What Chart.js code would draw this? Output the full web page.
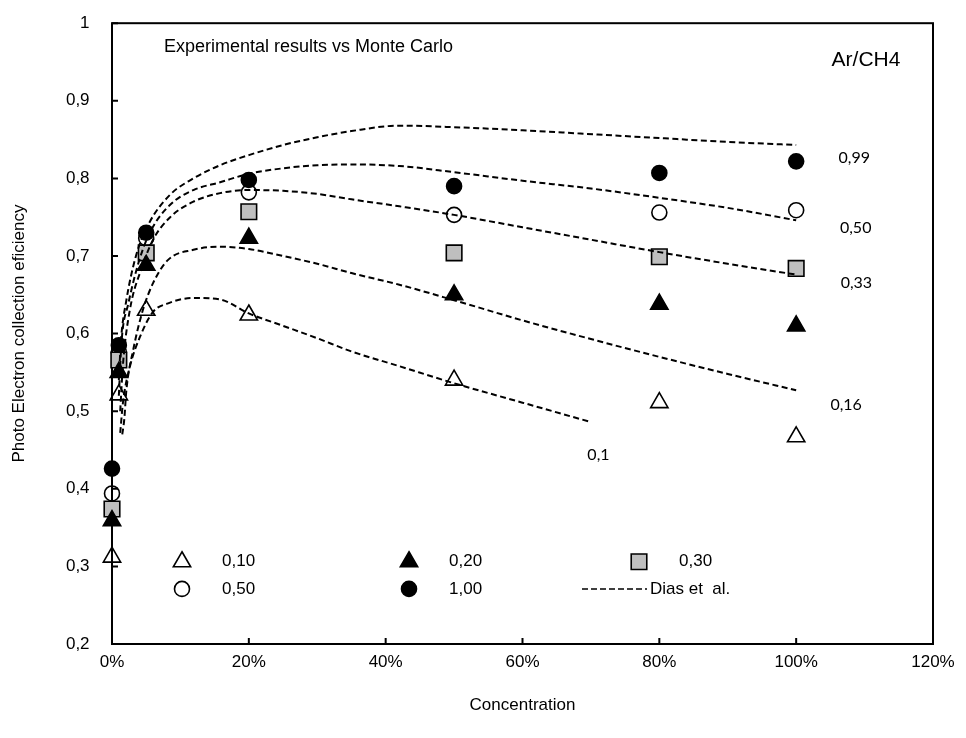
<!DOCTYPE html>
<html><head><meta charset="utf-8">
<script src="https://cdn.jsdelivr.net/npm/chart.js@4.4.1/dist/chart.umd.min.js"></script>
<style>html,body{margin:0;padding:0;background:#fff}#wrap{width:966px;height:738px}</style>
</head><body><div id="wrap"><canvas id="c" width="966" height="738"></canvas></div>
<script>
// Experimental data (x = CH4 concentration, y = photoelectron collection efficiency)
const concentrations = [0, 0.01, 0.05, 0.2, 0.5, 0.8, 1.0];
const eff010 = [0.312, 0.521, 0.630, 0.624, 0.540, 0.511, 0.467];
const eff020 = [0.359, 0.550, 0.688, 0.723, 0.650, 0.638, 0.610];
const eff030 = [0.374, 0.566, 0.704, 0.757, 0.704, 0.699, 0.684];
const eff050 = [0.394, 0.576, 0.723, 0.782, 0.753, 0.756, 0.759];
const eff100 = [0.426, 0.585, 0.730, 0.798, 0.790, 0.807, 0.822];

// Monte Carlo (Dias et al.) curves
const dias099X = [0.010, 0.013, 0.021, 0.035, 0.054, 0.085, 0.119, 0.158, 0.20, 0.25, 0.30, 0.35, 0.42, 0.50, 0.60, 0.72, 0.80, 0.90, 1.00];
const dias099Y = [0.540, 0.590, 0.643, 0.700, 0.742, 0.779, 0.800, 0.817, 0.830, 0.843, 0.853, 0.861, 0.868, 0.866, 0.862, 0.856, 0.852, 0.847, 0.843];
const dias050X = [0.010, 0.014, 0.024, 0.040, 0.057, 0.085, 0.119, 0.158, 0.20, 0.25, 0.30, 0.35, 0.42, 0.50, 0.60, 0.70, 0.80, 0.90, 1.00];
const dias050Y = [0.520, 0.590, 0.639, 0.695, 0.733, 0.766, 0.785, 0.795, 0.806, 0.813, 0.817, 0.818, 0.816, 0.808, 0.797, 0.787, 0.775, 0.762, 0.746];
const dias033X = [0.012, 0.016, 0.026, 0.044, 0.060, 0.085, 0.119, 0.158, 0.20, 0.25, 0.30, 0.35, 0.42, 0.50, 0.60, 0.70, 0.80, 0.90, 1.00];
const dias033Y = [0.500, 0.560, 0.630, 0.686, 0.721, 0.750, 0.770, 0.781, 0.785, 0.784, 0.780, 0.773, 0.764, 0.753, 0.737, 0.721, 0.705, 0.690, 0.676];
const dias016X = [0.015, 0.018, 0.021, 0.031, 0.045, 0.060, 0.082, 0.119, 0.158, 0.20, 0.25, 0.30, 0.35, 0.42, 0.50, 0.60, 0.70, 0.80, 0.90, 1.00];
const dias016Y = [0.470, 0.490, 0.527, 0.579, 0.630, 0.665, 0.695, 0.708, 0.712, 0.709, 0.700, 0.690, 0.678, 0.663, 0.643, 0.617, 0.593, 0.570, 0.548, 0.527];
const dias010X = [0.012, 0.016, 0.026, 0.041, 0.060, 0.082, 0.119, 0.158, 0.20, 0.25, 0.30, 0.35, 0.42, 0.50, 0.60, 0.70];
const dias010Y = [0.472, 0.511, 0.557, 0.596, 0.628, 0.639, 0.646, 0.644, 0.626, 0.610, 0.594, 0.577, 0.558, 0.536, 0.511, 0.486];

const xTicks = [0, 0.2, 0.4, 0.6, 0.8, 1.0, 1.2];
const yTicks = [0.2, 0.3, 0.4, 0.5, 0.6, 0.7, 0.8, 0.9, 1.0];
const legendLabels = ['0,10', '0,20', '0,30', '0,50', '1,00', 'Dias et  al.'];
const curveLabels = ['0,99', '0,50', '0,33', '0,16', '0,1'];
const titleText = 'Experimental results vs Monte Carlo';
const gasText = 'Ar/CH4';
const xTitle = 'Concentration';
const yTitle = 'Photo Electron collection eficiency';

const FONT = '"Liberation Sans", Arial, sans-serif';
const OPEN = 'rgba(255,255,255,0)';
const zip = (xs, ys) => xs.map((x, i) => ({x, y: ys[i]}));
const fmtNum = v => String(Math.round(v * 10) / 10).replace('.', ',') + '  ';

function markerDS(label, ys, style, fill, r) {
  return {label, data: zip(concentrations, ys), showLine: false, pointStyle: style,
    pointRadius: r, pointHoverRadius: r, backgroundColor: fill, borderColor: '#000',
    pointBorderWidth: 1.6, borderWidth: 1.6, order: 2, clip: false};
}
function curveDS(label, xs, ys) {
  return {label, data: zip(xs, ys), showLine: true, pointRadius: 0, borderColor: '#000',
    borderWidth: 2, borderDash: [6, 3.5], cubicInterpolationMode: 'monotone', fill: false, order: 1};
}

const datasets = [
  markerDS('0,10', eff010, 'triangle', OPEN, 10),
  markerDS('0,20', eff020, 'triangle', '#000', 10),
  markerDS('0,30', eff030, 'rect', '#bfbfbf', 11),
  markerDS('0,50', eff050, 'circle', OPEN, 7.5),
  markerDS('1,00', eff100, 'circle', '#000', 7.5),
  curveDS('0,99', dias099X, dias099Y),
  curveDS('0,50 MC', dias050X, dias050Y),
  curveDS('0,33', dias033X, dias033Y),
  curveDS('0,16', dias016X, dias016Y),
  curveDS('0,1', dias010X, dias010Y)
];

function drawMarker(ctx, style, x, y, r, fill) {
  ctx.save();
  ctx.fillStyle = fill; ctx.strokeStyle = '#000'; ctx.lineWidth = 1.6; ctx.setLineDash([]);
  ctx.beginPath();
  if (style === 'circle') ctx.arc(x, y, r, 0, Math.PI * 2);
  else if (style === 'rect') { const s = r * Math.SQRT1_2; ctx.rect(x - s, y - s, 2 * s, 2 * s); }
  else { ctx.moveTo(x, y - r); ctx.lineTo(x + r * 0.866, y + r / 2); ctx.lineTo(x - r * 0.866, y + r / 2); ctx.closePath(); }
  ctx.fill(); ctx.stroke();
  ctx.restore();
}

const decor = {
  id: 'decor',
  beforeDatasetsDraw(chart) {
    const {ctx, chartArea: a, scales: {x, y}} = chart;
    ctx.save();
    ctx.strokeStyle = '#000'; ctx.lineWidth = 2; ctx.setLineDash([]);
    ctx.strokeRect(a.left, a.top, a.right - a.left, a.bottom - a.top);
    ctx.beginPath();
    yTicks.forEach(v => { const py = y.getPixelForValue(v); ctx.moveTo(a.left, py); ctx.lineTo(a.left + 6, py); });
    xTicks.forEach(v => { const px = x.getPixelForValue(v); ctx.moveTo(px, a.bottom); ctx.lineTo(px, a.bottom - 6); });
    ctx.stroke();
    ctx.restore();
  },
  afterDraw(chart) {
    const {ctx, chartArea: a, scales: {x, y}} = chart;
    ctx.save();
    ctx.fillStyle = '#000'; ctx.textBaseline = 'middle';
    ctx.font = '18px ' + FONT; ctx.textAlign = 'left';
    ctx.fillText(titleText, a.left + 52, a.top + 24);
    ctx.font = '21px ' + FONT; ctx.textAlign = 'center';
    ctx.fillText(gasText, a.left + 754, a.top + 37);

    ctx.font = '16px Lato, "Open Sans", sans-serif'; ctx.textAlign = 'center';
    const cl = [[1.085, 0.826], [1.087, 0.736], [1.088, 0.665], [1.073, 0.508], [0.711, 0.444]];
    curveLabels.forEach((t, i) => ctx.fillText(t, x.getPixelForValue(cl[i][0]), y.getPixelForValue(cl[i][1])));

    const r1 = y.getPixelForValue(0.306), r2 = y.getPixelForValue(0.271);
    const mx = [a.left + 70, a.left + 297, a.left + 527];
    const styles = [['triangle', OPEN, 10, mx[0], r1], ['triangle', '#000', 10, mx[1], r1], ['rect', '#bfbfbf', 11, mx[2], r1],
                    ['circle', OPEN, 7.5, mx[0], r2], ['circle', '#000', 7.5, mx[1], r2]];
    ctx.font = '17px ' + FONT; ctx.textAlign = 'left';
    styles.forEach((s, i) => {
      drawMarker(ctx, s[0], s[3], s[4], s[2], s[1]);
      ctx.fillStyle = '#000';
      ctx.fillText(legendLabels[i], s[3] + 40, s[4]);
    });
    ctx.beginPath(); ctx.setLineDash([6, 3]); ctx.lineWidth = 1.5;
    ctx.moveTo(a.left + 470, r2); ctx.lineTo(a.left + 535, r2); ctx.stroke();
    ctx.setLineDash([]);
    ctx.fillText(legendLabels[5], a.left + 538, r2);
    ctx.restore();
  }
};

new Chart(document.getElementById('c'), {
  type: 'scatter',
  data: {datasets},
  options: {
    responsive: false, animation: false, devicePixelRatio: 1,
    layout: {padding: {top: 23, right: 33, left: 0, bottom: 0}},
    plugins: {legend: {display: false}, tooltip: {enabled: false}},
    scales: {
      x: {type: 'linear', min: 0, max: 1.2,
        afterBuildTicks: s => { s.ticks = xTicks.map(v => ({value: v})); },
        afterFit: s => { s.height = 94; },
        ticks: {callback: v => Math.round(v * 100) + '%', color: '#000', font: {family: FONT, size: 17}, padding: 8, maxRotation: 0},
        grid: {display: false, drawTicks: false},
        border: {display: false},
        title: {display: true, text: xTitle, color: '#000', font: {family: FONT, size: 17}, padding: {top: 0, bottom: 22}}
      },
      y: {type: 'linear', min: 0.2, max: 1.0,
        afterBuildTicks: s => { s.ticks = yTicks.map(v => ({value: v})); },
        afterFit: s => { s.width = 112; },
        ticks: {callback: v => fmtNum(v), color: '#000', font: {family: FONT, size: 17}, padding: 13},
        grid: {display: false, drawTicks: false},
        border: {display: false},
        title: {display: true, text: yTitle, color: '#000', font: {family: FONT, size: 17}, padding: {top: 9, bottom: 0}}
      }
    }
  },
  plugins: [decor]
});
</script></body></html>
